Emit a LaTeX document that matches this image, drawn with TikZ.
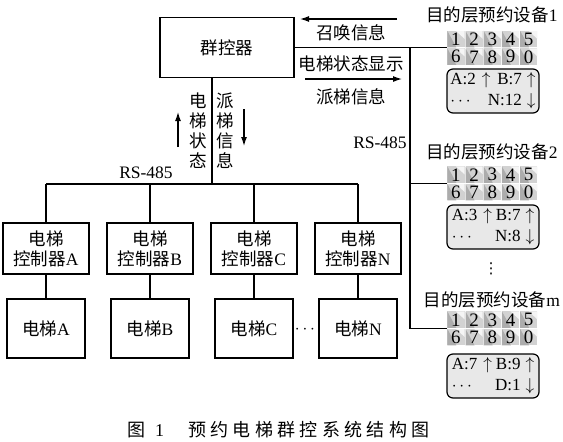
\documentclass[tikz,border=0pt]{standalone}
\usepackage{fontspec}
\setmainfont{Liberation Serif}
\newfontfamily\cjk{Noto Sans CJK SC}
\newfontfamily\capcjk[LetterSpace=24]{Noto Sans CJK SC}
\newfontfamily\symfont{DejaVu Sans}
\newcommand{\lat}[1]{{\rmfamily #1}}
\usetikzlibrary{arrows.meta}

\begin{document}
\begin{tikzpicture}[x=1pt,y=-1pt]
\tikzset{box/.style = {shape=rectangle,draw,line width=1.2pt,align=center,inner sep=0pt,font=\cjk\fontsize{17.5}{20}\selectfont},
  lab/.style = {inner sep=0pt,align=center,font=\cjk\fontsize{17.5}{20}\selectfont},
  arr/.style = {line width=1.2pt,-{Latex[length=9pt,width=6pt]}},
  wire/.style = {line width=1.2pt},
  padbox/.style = {shape=rectangle,minimum width=91pt,minimum height=35pt,inner sep=0pt},
  keyno/.style = {inner sep=0pt,font=\fontsize{19}{19}\selectfont},
  screen/.style = {shape=rectangle,draw,line width=1.2pt,rounded corners=6pt,fill=gray!18,minimum width=92pt,inner sep=0pt,font=\fontsize{17}{20.5}\selectfont}}
\useasboundingbox (0,0) rectangle (563,442);
% group controller
\node[box,minimum width=134pt,minimum height=60pt] (gc) at (227,47.5) {群控器};
% elevator controllers and elevators
\foreach \x/\id in {46/A,150/B,254/C,358/N} {
    \node[box,minimum width=86pt,minimum height=51pt] (ctrl\id) at (\x,248.5) {电梯\\控制器\lat{\id}};
    \node[box,minimum width=78pt,minimum height=59pt] (elev\id) at (\x,328.5) {电梯\lat{\id}};
}
\node[keyno] (edots) at (305,330) {$\cdots$};
% bus
\coordinate (bus) at (212,184);
\draw[wire] (gc.south -| bus) -- (bus);
\draw[wire] (ctrlA.north |- bus) -- (ctrlN.north |- bus);
\foreach \id in {A,B,C,N} {
    \draw[wire] (ctrl\id.north |- bus) -- (ctrl\id.north);
    \draw[wire] (ctrl\id) -- (elev\id);
}
\node[lab] (rsl) at (146,173) {\lat{RS-485}};
\node[lab] (statv) at (198,131) {电\\梯\\状\\态};
\node[lab] (sendv) at (225,131) {派\\梯\\信\\息};
\draw[arr] ([shift={(-20,16)}]statv.center) -- ([shift={(-20,-19)}]statv.center);
\draw[arr] ([shift={(19,-22)}]sendv.center) -- ([shift={(19,15)}]sendv.center);
% messages to the right
\node[lab] (callt) at (351,33) {召唤信息};
\node[lab] (showt) at (351,64) {电梯状态显示};
\node[lab] (sendt) at (351,97) {派梯信息};
\node[lab] (rsr) at (380,143) {\lat{RS-485}};
\draw[arr] ([shift={(46,-14)}]callt.center) -- ([shift={(-51,-14)}]callt.center);
\draw[arr] ([shift={(-46,-18)}]sendt.center) -- ([shift={(51,-18)}]sendt.center);
% destination devices
\foreach \k/\y/\ty/\dy/\a/\b/\c in {1/48/15/91/A:2/B:7/N:12,2/183.5/152/227/A:3/B:7/N:8,m/328.5/300/376/A:7/B:9/D:1} {
    \node[lab] (title\k) at (492,\ty) {目的层预约设备\lat{\k}};
    \node[padbox] (pad\k) at (492.5,\y) {};
    \node[screen,minimum height=44pt] (scr\k) at (493,\dy) {%
        \begin{tabular}{@{}l@{\hspace{6pt}}c@{\hspace{4pt}}r@{\hspace{5pt}}c@{}}
        \a & $\uparrow$ & \b & $\uparrow$\\
        $\cdots$ & \multicolumn{2}{r@{\hspace{5pt}}}{\c} & $\downarrow$
        \end{tabular}};
    \foreach \d [count=\i from 0] in {1,2,3,4,5,6,7,8,9,0} {
        \pgfmathtruncatemacro\col{mod(\i,5)}
        \pgfmathtruncatemacro\row{\i/5}
        \fill[gray!35] ([shift={(\col*18.2+0.5,\row*17.5+0.5)}]pad\k.north west) rectangle ++(17.2,16.5);
        \fill[gray!65] ([shift={(\col*18.2+0.5,\row*17.5+0.5)}]pad\k.north west) -- ++(0,16.5) -- ++(9,0) -- cycle;
        \fill[gray!8] ([shift={(\col*18.2+9,\row*17.5+0.5)}]pad\k.north west) -- ++(8.7,0) -- ++(0,8) -- cycle;
        \node[keyno] (key\k\d) at ([shift={(\col*18.2+9.1,\row*17.5+9)}]pad\k.north west) {\d};
    }
}
\node[inner sep=0pt,font=\symfont\fontsize{15}{15}\selectfont] (vd) at (491,269) {⋮};
% trunk line to the devices
\coordinate (trunk) at (410,47.5);
\draw[wire] (gc.east) -- (pad1.west |- gc.east);
\draw[wire] (trunk) |- (padm.west);
\draw[wire] (trunk |- pad2.west) -- (pad2.west);
% caption
\node[lab,anchor=west,font=\cjk\fontsize{18}{20}\selectfont] (cap) at (127,430) {图\hspace{10pt}\lat{1}\hspace{24pt}{\capcjk 预约电梯群控系统结构图}};
\end{tikzpicture}
\end{document}
